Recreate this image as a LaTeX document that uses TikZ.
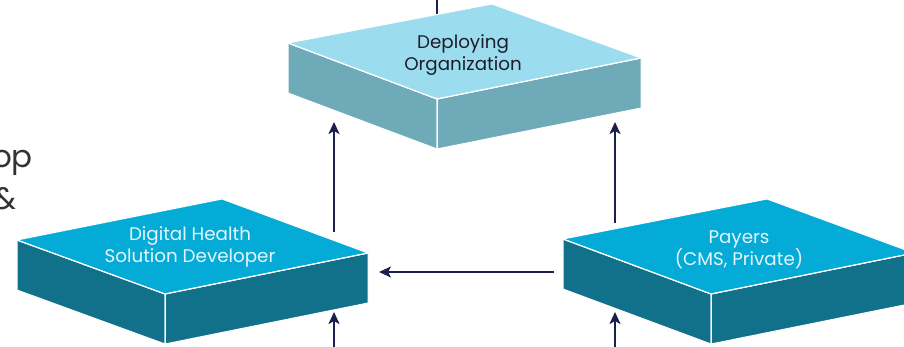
\documentclass[tikz,border=0pt]{standalone}
\usepackage{fontspec}
\setmainfont{Poppins}
\usetikzlibrary{arrows.meta,calc}
\definecolor{navy}{HTML}{1B1F4B}
\definecolor{lighttop}{HTML}{9BDCEE}
\definecolor{lightside}{HTML}{6EAAB8}
\definecolor{cyantop}{HTML}{05ABD7}
\definecolor{cyanside}{HTML}{11718A}
\definecolor{darktxt}{HTML}{1E1E2A}
\definecolor{lighttxt}{HTML}{E4F6FB}
\definecolor{edgetxt}{HTML}{333333}
\tikzset{
  face/.style={draw=white, line width=1pt, line join=round},
  flow/.style={draw=navy, line width=2.6pt, -{Stealth[length=12pt,width=11pt,inset=3pt]}},
  plainflow/.style={draw=navy, line width=2.6pt},
  boxtext/.style={font=\fontsize{18.3}{22.5}\selectfont, align=center, inner sep=0pt},
  cuttext/.style={font=\fontsize{31}{31}\selectfont, text=edgetxt, anchor=east, inner sep=0pt}
}
% #1 left, #2 top, #3 right, #4 front, #5 thickness, #6 top colour, #7 side colour
\newcommand\isoslab[7]{%
  \fill[face, fill=#7] (#1) -- (#4) -- ($(#4)+(0,#5)$) -- ($(#1)+(0,#5)$) -- cycle;
  \fill[face, fill=#7] (#4) -- (#3) -- ($(#3)+(0,#5)$) -- ($(#4)+(0,#5)$) -- cycle;
  \fill[face, fill=#6] (#1) -- (#2) -- (#3) -- (#4) -- cycle;
  \draw[face] (#1) -- (#4) -- (#3);
  \draw[face] (#4) -- ($(#4)+(0,#5)$);
}
\begin{document}
\begin{tikzpicture}[x=1pt, y=-1pt]
\useasboundingbox (0,0) rectangle (904,347);

% coordinates for connector ends
\coordinate (topin) at (437,-4);
\coordinate (topend) at (437,15);
\coordinate (la0) at (334,232);
\coordinate (la1) at (334,122);
\coordinate (ra0) at (615,223);
\coordinate (ra1) at (615,122);
\coordinate (ha0) at (554,272);
\coordinate (ha1) at (379,272);
\coordinate (lb0) at (334,352);
\coordinate (lb1) at (334,312);
\coordinate (rb0) at (615,352);
\coordinate (rb1) at (615,312);

\draw[plainflow] (topin) -- (topend);

% Deploying Organization slab
\isoslab{288,43}{492,4}{641,58}{437,99}{50}{lighttop}{lightside}
% Digital Health slab
\isoslab{17,240}{222,199}{368,253}{165,294}{50}{cyantop}{cyanside}
% Payers slab
\isoslab{563,239}{767,199}{914,253}{711,294}{50}{cyantop}{cyanside}

\node[boxtext, text=darktxt] (deploy) at (463,55) {Deploying\\Organization};
\node[boxtext, text=lighttxt] (dev) at (190,247) {Digital Health\\Solution Developer};
\node[boxtext, text=lighttxt] (pay) at (739,250) {Payers\\(CMS, Private)};

\node[cuttext] (cutop) at (33,163) {op};
\node[cuttext] (cutamp) at (17,199) {\&};

\draw[flow] (la0) -- (la1);
\draw[flow] (ra0) -- (ra1);
\draw[flow] (ha0) -- (ha1);
\draw[flow] (lb0) -- (lb1);
\draw[flow] (rb0) -- (rb1);
\end{tikzpicture}
\end{document}
